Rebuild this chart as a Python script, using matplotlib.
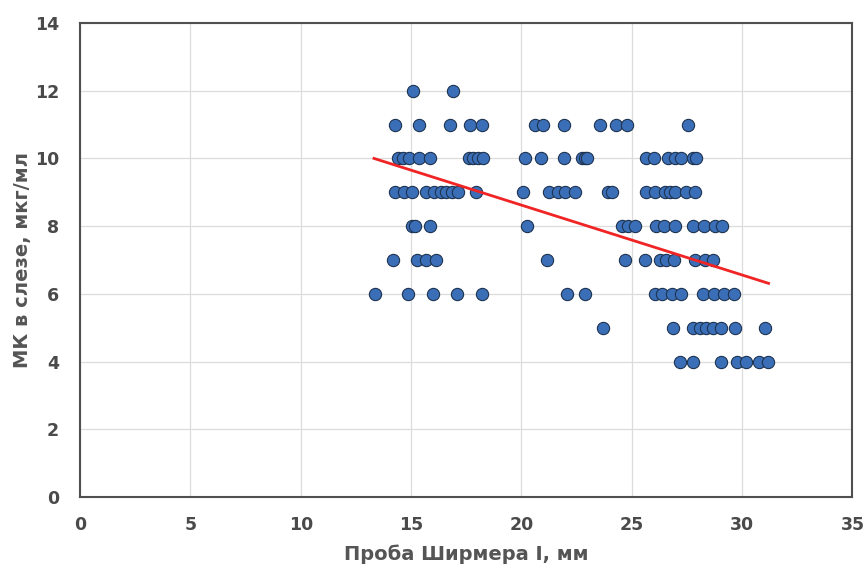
# Діаграма розсіювання: проба Ширмера проти МК у слізній рідині
import numpy as np
import matplotlib.pyplot as plt

# значення х (мм) для кожного рівня МК (мкг/мл)
x12 = [15.09, 16.89]
x11 = [14.27, 15.36, 16.76, 17.66, 18.20, 20.63, 21.00, 21.95, 23.56, 24.27, 24.77, 27.55]
x10 = [14.43, 14.63, 14.91, 15.36, 15.84, 17.62, 17.80, 18.02, 18.25,
       20.18, 20.90, 21.95, 22.73, 22.89, 22.99,
       25.64, 26.00, 26.65, 26.95, 27.25, 27.78, 27.93]
x9 = [14.27, 14.70, 15.05, 15.66, 16.03, 16.34, 16.60, 16.86, 17.12, 17.94,
      20.07, 21.23, 21.68, 21.98, 22.43, 23.91, 24.09,
      25.64, 26.05, 26.50, 26.72, 26.95, 27.47, 27.85]
x8 = [15.05, 15.18, 15.84, 20.25, 24.54, 24.84, 25.14,
      26.12, 26.45, 26.95, 27.78, 28.26, 28.76, 29.10]
x7 = [14.18, 15.28, 15.66, 16.11, 21.15, 24.69,
      25.60, 26.27, 26.54, 26.90, 27.85, 28.31, 28.68]
x6 = [13.37, 14.87, 15.99, 17.06, 18.22, 22.05, 22.89,
      26.05, 26.39, 26.84, 27.22, 28.23, 28.73, 29.16, 29.62]
x5 = [23.68, 26.87, 27.78, 28.08, 28.35, 28.68, 29.06, 29.66, 31.02]
x4 = [27.20, 27.78, 29.06, 29.77, 30.18, 30.76, 31.17]

rows = {12: x12, 11: x11, 10: x10, 9: x9, 8: x8, 7: x7, 6: x6, 5: x5, 4: x4}

# лінія тренду (кінці)
trend_x = [13.32, 31.2]
trend_y = [10.0, 6.31]

x_all = []
y_all = []
for level, xs in rows.items():
    x_all += xs
    y_all += [level] * len(xs)

fig = plt.figure(figsize=(8.65, 5.66), dpi=100)
ax = fig.add_axes([0.0925, 0.1219, 0.893, 0.8375])

ax.scatter(x_all, y_all, s=78, color='#3a6fb8', edgecolors='#1e3350',
           linewidths=0.8, zorder=3)
ax.plot(trend_x, trend_y, color='#f02424', linewidth=2.0, zorder=4)

ax.set_xlim(0, 35)
ax.set_ylim(0, 14)
ax.set_xticks(np.arange(0, 36, 5))
ax.set_yticks(np.arange(0, 15, 2))
ax.grid(color='#dcdcdc', linewidth=0.9)
ax.set_axisbelow(True)
for sp in ax.spines.values():
    sp.set_color('#505050')
    sp.set_linewidth(1.5)
ax.tick_params(axis='x', length=0, pad=14, labelsize=12.5, labelcolor='#4a4a4a')
ax.tick_params(axis='y', length=0, pad=15, labelsize=12.5, labelcolor='#4a4a4a')
for lab in ax.get_xticklabels() + ax.get_yticklabels():
    lab.set_fontweight('bold')

ax.set_xlabel('Проба Ширмера I, мм', fontsize=14, fontweight='bold',
              color='#555555', labelpad=7)
fig.text(0.026, 0.54, 'МК в слезе, мкг/мл', rotation=90, fontsize=14,
         fontweight='bold', color='#555555', ha='center', va='center')

plt.savefig('out.png', dpi=100)
